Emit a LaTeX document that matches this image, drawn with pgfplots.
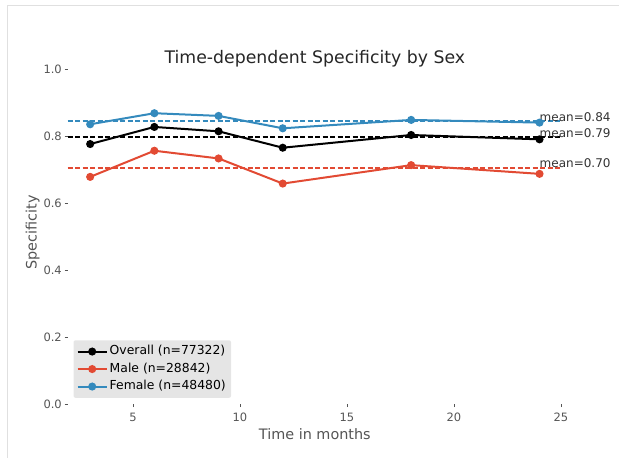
\documentclass[border=0pt]{standalone}
\usepackage{fontspec}
\setmainfont{DejaVu Sans}
\usepackage{pgfplots}
\pgfplotsset{compat=1.18}
\definecolor{mred}{HTML}{E24A33}
\definecolor{mblue}{HTML}{348ABD}
\definecolor{tickgray}{HTML}{555555}
\definecolor{leggray}{HTML}{E5E5E5}
\newcommand{\lf}{\fontsize{12.4}{14}\selectfont}
\begin{document}
\begin{tikzpicture}[x=1pt,y=1pt]
\useasboundingbox (0,0) rectangle (619,458);
\draw[black!12, line width=1pt] (7,0) -- (7,452) -- (619,452);
\begin{axis}[
  at={(67.7pt,54pt)}, anchor=south west,
  scale only axis, width=494.3pt, height=335pt,
  xmin=1.95, xmax=25.05, ymin=0, ymax=1,
  xtick={5,10,15,20,25},
  ytick={0,0.2,0.4,0.6,0.8,1.0},
  yticklabels={0.0,0.2,0.4,0.6,0.8,1.0},
  axis line style={draw=none},
  tick align=outside, xtick pos=bottom, ytick pos=left,
  major tick length=3pt,
  tick style={tickgray, line width=0.6pt},
  ticklabel style={font=\fontsize{11.5}{12}\selectfont, text=tickgray},
  yticklabel style={inner sep=0pt, xshift=-2.7pt},
  xticklabel style={inner sep=0pt, yshift=-6pt},
  /pgf/number format/assume math mode=true,
  clip=false,
  legend cell align=left,
  legend style={at={(0,0)}, anchor=south west, xshift=5.6pt, yshift=6pt,
    fill=leggray, draw=none, rounded corners=2pt,
    inner xsep=3.2pt, inner ysep=2.5pt, row sep=0pt,
    nodes={text height=9pt, text depth=3pt, inner ysep=2.75pt, inner xsep=2pt},
    /tikz/every even column/.append style={column sep=3pt}},
  legend image code/.code={\draw[mark repeat=2,mark phase=2] plot coordinates {(0pt,0pt) (14.5pt,0pt) (29pt,0pt)};},
]
% mean lines
\addplot[color=mblue, solid, line width=1.8pt, dash pattern=on 5pt off 2.5pt, forget plot] coordinates {(1.95,0.844) (25.05,0.844)};
\addplot[color=black, solid, line width=1.8pt, dash pattern=on 5pt off 2.5pt, forget plot] coordinates {(1.95,0.796) (25.05,0.796)};
\addplot[color=mred, solid, line width=1.8pt, dash pattern=on 5pt off 2.5pt, forget plot] coordinates {(1.95,0.705) (25.05,0.705)};
% series
\addplot[black, line width=2pt, mark=*, mark size=3pt] coordinates {
 (3,0.776) (6,0.827) (9,0.814) (12,0.765) (18,0.803) (24,0.790)};
\addlegendentry{\lf Overall (n=77322)}
\addplot[mred, line width=2pt, mark=*, mark size=3pt] coordinates {
 (3,0.678) (6,0.756) (9,0.733) (12,0.658) (18,0.713) (24,0.687)};
\addlegendentry{\lf Male (n=28842)}
\addplot[mblue, line width=2pt, mark=*, mark size=3pt] coordinates {
 (3,0.835) (6,0.868) (9,0.860) (12,0.823) (18,0.848) (24,0.840)};
\addlegendentry{\lf Female (n=48480)}
% mean labels
\node[anchor=base west, inner sep=0pt, font=\fontsize{12}{14}\selectfont, text=black!80] at (axis cs:24,0.844) {mean=0.84};
\node[anchor=base west, inner sep=0pt, font=\fontsize{12}{14}\selectfont, text=black!80] at (axis cs:24,0.796) {mean=0.79};
\node[anchor=base west, inner sep=0pt, font=\fontsize{12}{14}\selectfont, text=black!80] at (axis cs:24,0.705) {mean=0.70};
% title and labels
\node[anchor=base, yshift=5pt, inner sep=0pt, font=\fontsize{17.3}{20}\selectfont, text=black!85] at (rel axis cs:0.5,1) {Time-dependent Specificity by Sex};
\node[anchor=base, yshift=-35pt, inner sep=0pt, font=\fontsize{14.4}{16}\selectfont, text=tickgray] at (rel axis cs:0.5,0) {Time in months};
\node[anchor=base, rotate=90, inner sep=0pt, font=\fontsize{14.4}{16}\selectfont, text=tickgray] at (axis description cs:-0.0627,0.512) {Specificity};
\end{axis}
\end{tikzpicture}
\end{document}
